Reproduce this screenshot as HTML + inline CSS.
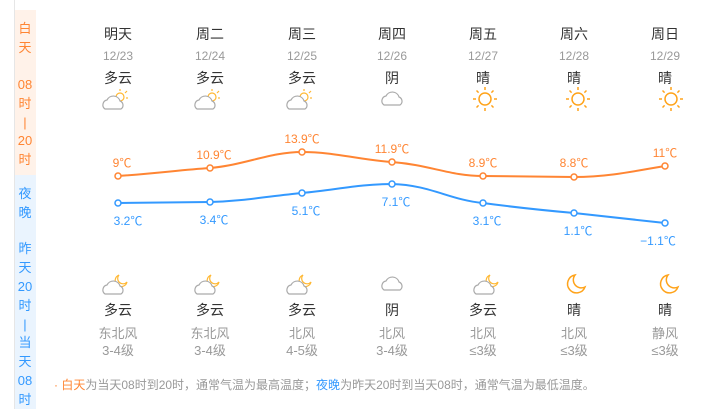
<!DOCTYPE html>
<html><head><meta charset="utf-8"><style>
body{margin:0;background:#fff;width:720px;height:409px;overflow:hidden;font-family:"Liberation Sans","Noto Sans CJK SC",sans-serif}
</style></head><body>
<svg width="720" height="409" xmlns="http://www.w3.org/2000/svg" font-family="Liberation Sans, Noto Sans CJK SC, sans-serif">
<line x1="14.5" y1="0" x2="14.5" y2="409" stroke="#e6e6e6"/>
<rect x="15" y="10" width="21" height="165" fill="#fff2e9"/>
<rect x="15" y="175" width="21" height="234" fill="#eaf4fe"/>
<g fill="#ff8533" font-size="13" text-anchor="middle">
<text x="25" y="33">白</text><text x="25" y="52">天</text>
<text x="25" y="89">08</text><text x="25" y="108">时</text><text x="25" y="127">|</text>
<text x="25" y="145">20</text><text x="25" y="164">时</text></g>
<g fill="#3399ff" font-size="13" text-anchor="middle">
<text x="25" y="198">夜</text><text x="25" y="217">晚</text>
<text x="25" y="253">昨</text><text x="25" y="272">天</text><text x="25" y="291">20</text>
<text x="25" y="310">时</text><text x="25" y="329">|</text><text x="25" y="347">当</text>
<text x="25" y="366">天</text><text x="25" y="385">08</text><text x="25" y="404">时</text></g>
<defs>
<g id="cd"><path d="M-10,6 a5,5 0 0 1 2,-9 a7,7 0 0 1 13,1 a4.5,4.5 0 0 1 1,8 z" fill="#fff" stroke="#aaa" stroke-width="1.2"/></g>
<g id="sun"><circle r="6" fill="none" stroke="#ffa31a" stroke-width="1.5"/>
<g stroke="#ffa31a" stroke-width="1.5"><line x1="0" y1="-9" x2="0" y2="-12"/><line x1="0" y1="9" x2="0" y2="12"/><line x1="-9" y1="0" x2="-12" y2="0"/><line x1="9" y1="0" x2="12" y2="0"/><line x1="6.4" y1="6.4" x2="8.5" y2="8.5"/><line x1="-6.4" y1="6.4" x2="-8.5" y2="8.5"/><line x1="6.4" y1="-6.4" x2="8.5" y2="-8.5"/><line x1="-6.4" y1="-6.4" x2="-8.5" y2="-8.5"/></g></g>
<g id="pc"><g stroke="#ffb833" stroke-width="1.2"><circle cx="4" cy="-4" r="4" fill="#fff"/><line x1="4" y1="-10" x2="4" y2="-12"/><line x1="9" y1="-8" x2="11" y2="-10"/><line x1="10" y1="-3" x2="12" y2="-3"/></g><use href="#cd" x="-1" y="2"/></g>
<g id="pm"><path d="M3,-11 a6,6 0 1 0 8,7 a5,5 0 0 1 -8,-7z" fill="#fff" stroke="#ffb833" stroke-width="1.2"/><use href="#cd" x="-1" y="2"/></g>
<g id="moon"><path d="M-1,-10 a9,9 0 1 0 10,12 a8,8 0 0 1 -10,-12z" fill="none" stroke="#ffa31a" stroke-width="1.5"/></g>
</defs>
<g text-anchor="middle">
<g font-size="14" fill="#333">
<text x="118" y="39">明天</text><text x="210" y="39">周二</text><text x="302" y="39">周三</text><text x="392" y="39">周四</text><text x="483" y="39">周五</text><text x="574" y="39">周六</text><text x="665" y="39">周日</text></g>
<g font-size="12" fill="#999">
<text x="118" y="60">12/23</text><text x="210" y="60">12/24</text><text x="302" y="60">12/25</text><text x="392" y="60">12/26</text><text x="483" y="60">12/27</text><text x="574" y="60">12/28</text><text x="665" y="60">12/29</text></g>
<g font-size="14" fill="#333">
<text x="118" y="83">多云</text><text x="210" y="83">多云</text><text x="302" y="83">多云</text><text x="392" y="83">阴</text><text x="483" y="83">晴</text><text x="574" y="83">晴</text><text x="665" y="83">晴</text></g>
</g>
<use href="#pc" x="116" y="101"/><use href="#pc" x="208" y="101"/><use href="#pc" x="300" y="101"/>
<use href="#cd" x="394" y="99"/>
<use href="#sun" x="485" y="99"/><use href="#sun" x="578" y="99"/><use href="#sun" x="671" y="99"/>
<path d="M118,176 C160,173 180,170 210,168 C245,165 270,152 302,152 C335,152 360,160 392,162 C430,165 450,176 483,176 L574,177 C610,177 640,170 665,166" fill="none" stroke="#ff8533" stroke-width="2"/>
<path d="M118,203 L210,202 C245,201 270,196 302,193 C335,190 360,184 392,184 C430,185 450,200 483,203 C520,208 540,210 574,213 L665,223" fill="none" stroke="#3399ff" stroke-width="2"/>
<g fill="#fff" stroke="#ff8533" stroke-width="1.5">
<circle cx="118" cy="176" r="3"/><circle cx="210" cy="168" r="3"/><circle cx="302" cy="152" r="3"/><circle cx="392" cy="162" r="3"/><circle cx="483" cy="176" r="3"/><circle cx="574" cy="177" r="3"/><circle cx="665" cy="166" r="3"/></g>
<g fill="#fff" stroke="#3399ff" stroke-width="1.5">
<circle cx="118" cy="203" r="3"/><circle cx="210" cy="202" r="3"/><circle cx="302" cy="193" r="3"/><circle cx="392" cy="184" r="3"/><circle cx="483" cy="203" r="3"/><circle cx="574" cy="213" r="3"/><circle cx="665" cy="223" r="3"/></g>
<g text-anchor="middle" font-size="12" fill="#ff8533">
<text x="122" y="167">9℃</text><text x="214" y="159">10.9℃</text><text x="302" y="143">13.9℃</text><text x="392" y="153">11.9℃</text><text x="483" y="167">8.9℃</text><text x="574" y="167">8.8℃</text><text x="665" y="157">11℃</text></g>
<g text-anchor="middle" font-size="12" fill="#3399ff">
<text x="128" y="225">3.2℃</text><text x="214" y="224">3.4℃</text><text x="306" y="215">5.1℃</text><text x="396" y="206">7.1℃</text><text x="487" y="225">3.1℃</text><text x="578" y="235">1.1℃</text><text x="658" y="245">−1.1℃</text></g>
<use href="#pm" x="116" y="286"/><use href="#pm" x="208" y="286"/><use href="#pm" x="300" y="286"/>
<use href="#cd" x="394" y="284"/><use href="#pm" x="487" y="286"/>
<use href="#moon" x="576" y="285"/><use href="#moon" x="669" y="285"/>
<g text-anchor="middle">
<g font-size="14" fill="#333">
<text x="118" y="315">多云</text><text x="210" y="315">多云</text><text x="302" y="315">多云</text><text x="392" y="315">阴</text><text x="483" y="315">多云</text><text x="574" y="315">晴</text><text x="665" y="315">晴</text></g>
<g font-size="13" fill="#999">
<text x="118" y="338">东北风</text><text x="210" y="338">东北风</text><text x="302" y="338">北风</text><text x="392" y="338">北风</text><text x="483" y="338">北风</text><text x="574" y="338">北风</text><text x="665" y="338">静风</text>
<text x="118" y="355">3-4级</text><text x="210" y="355">3-4级</text><text x="302" y="355">4-5级</text><text x="392" y="355">3-4级</text><text x="483" y="355">≤3级</text><text x="574" y="355">≤3级</text><text x="665" y="355">≤3级</text></g>
</g>
<text x="54" y="389" font-size="12" fill="#999"><tspan fill="#ff8533">· 白天</tspan>为当天08时到20时，通常气温为最高温度；<tspan fill="#3399ff">夜晚</tspan>为昨天20时到当天08时，通常气温为最低温度。</text>
</svg>
</body></html>
